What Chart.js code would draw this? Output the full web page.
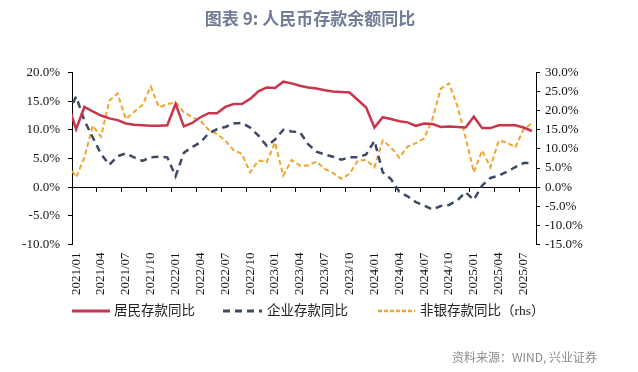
<!DOCTYPE html>
<html lang="zh">
<head>
<meta charset="UTF-8" />
<title>人民币存款余额同比</title>
<script src="https://cdn.jsdelivr.net/npm/chart.js@4"></script>
<style>
  html, body { margin: 0; padding: 0; background: #fff; }
  #wrap { width: 638px; height: 372px; }
</style>
</head>
<body>
<div id="wrap"><canvas id="chart" width="638" height="372"></canvas></div>
<script>
// ===========================================================
// Data (yoy, %). 2020/12 sits just left of the plot and gets clipped
// ===========================================================
const months = [
  "2020/12",
  "2021/01","2021/02","2021/03","2021/04","2021/05","2021/06","2021/07","2021/08","2021/09","2021/10","2021/11","2021/12",
  "2022/01","2022/02","2022/03","2022/04","2022/05","2022/06","2022/07","2022/08","2022/09","2022/10","2022/11","2022/12",
  "2023/01","2023/02","2023/03","2023/04","2023/05","2023/06","2023/07","2023/08","2023/09","2023/10","2023/11","2023/12",
  "2024/01","2024/02","2024/03","2024/04","2024/05","2024/06","2024/07","2024/08","2024/09","2024/10","2024/11","2024/12",
  "2025/01","2025/02","2025/03","2025/04","2025/05","2025/06","2025/07","2025/08"
];

// 居民存款同比 (left axis)
const household = [14.6,
  10.1, 14.0, 13.2, 12.5, 12.0, 11.7, 11.1, 10.9, 10.8, 10.7, 10.7, 10.8,
  14.5, 10.6, 11.2, 12.2, 12.9, 12.9, 14.0, 14.5, 14.5, 15.4, 16.7, 17.4,
  17.3, 18.4, 18.1, 17.7, 17.4, 17.2, 16.9, 16.7, 16.6, 16.5, 15.2, 13.9,
  10.4, 12.2, 11.9, 11.5, 11.3, 10.7, 11.1, 11.0, 10.5, 10.6, 10.5, 10.4,
  12.3, 10.3, 10.3, 10.8, 10.8, 10.8, 10.4, 9.8];

// 企业存款同比 (left axis)
const corporate = [12.8,
  15.8, 11.6, 8.7, 5.8, 3.9, 5.4, 5.9, 5.2, 4.6, 5.2, 5.3, 5.2,
  1.9, 6.0, 7.0, 7.8, 9.4, 10.1, 10.5, 11.1, 11.2, 10.4, 9.0, 7.2,
  8.3, 10.0, 9.7, 9.6, 7.5, 6.2, 5.7, 5.3, 4.8, 5.2, 5.2, 5.7,
  8.1, 2.6, 1.4, -0.8, -1.6, -2.6, -3.2, -3.9, -3.3, -3.1, -2.3, -0.9,
  -2.2, 0.3, 1.6, 2.0, 2.7, 3.5, 4.2, 4.2];

// 非银存款同比 (right axis)
const nonbank = [6.0,
  2.6, 7.8, 16.1, 13.2, 22.6, 24.5, 17.8, 19.7, 21.5, 26.3, 20.9, 21.7,
  22.2, 19.6, 18.3, 17.4, 15.0, 13.9, 12.2, 9.7, 8.7, 3.9, 7.0, 6.5,
  11.7, 3.0, 7.1, 5.7, 5.7, 6.7, 4.8, 3.7, 2.2, 3.5, 7.0, 7.1,
  5.2, 12.2, 10.4, 7.7, 10.6, 11.5, 12.8, 17.8, 25.7, 27.2, 21.3, 13.0,
  3.9, 9.6, 5.2, 12.2, 11.7, 10.4, 15.2, 16.7];

const leftTicks = [-10, -5, 0, 5, 10, 15, 20];
const rightTicks = [-15, -10, -5, 0, 5, 10, 15, 20, 25, 30];
// every 3rd month gets a label (index into the 2021/01-based months)
const labelIdx = [0, 3, 6, 9, 12, 15, 18, 21, 24, 27, 30, 33, 36, 39, 42, 45, 48, 51, 54];

const seriesNames = ["居民存款同比", "企业存款同比", "非银存款同比（rhs）"];
const colors = { red: "#c8354c", navy: "#3d4a66", orange: "#f0a52c" };

const toPoints = (arr) => arr.map((v, i) => ({ x: i - 1, y: v }));

// ===========================================================
// Title, legend and source are painted by hand
// ===========================================================
const decorations = {
  id: "decorations",
  afterDraw(chart) {
    const ctx = chart.ctx;
    ctx.save();
    ctx.fillStyle = "#6f7e96";
    ctx.font = 'bold 17px "Noto Sans CJK SC"';
    ctx.textAlign = "center";
    ctx.textBaseline = "middle";
    ctx.fillText("图表 9: 人民币存款余额同比", 310, 19);

    const items = [
      { x0: 72, x1: 110, tx: 114, color: colors.red, width: 3, dash: [] },
      { x0: 223, x1: 262, tx: 267, color: colors.navy, width: 3, dash: [7, 5] },
      { x0: 378, x1: 415, tx: 420, color: colors.orange, width: 2.5, dash: [4, 2] },
    ];
    const ly = 311;
    items.forEach((it, k) => {
      ctx.beginPath();
      ctx.setLineDash(it.dash);
      ctx.strokeStyle = it.color;
      ctx.lineWidth = it.width;
      ctx.moveTo(it.x0, ly);
      ctx.lineTo(it.x1, ly);
      ctx.stroke();
      ctx.setLineDash([]);
      ctx.fillStyle = "#222";
      ctx.font = '13.5px "Liberation Serif", "Noto Sans CJK SC"';
      ctx.textAlign = "left";
      ctx.fillText(seriesNames[k], it.tx, ly);
    });

    ctx.fillStyle = "#8c8c8c";
    ctx.font = '12px "Noto Sans CJK SC"';
    ctx.fillText("资料来源：WIND, 兴业证券", 452, 357);
    ctx.restore();
  },
};

const axisFont = { family: '"Liberation Serif", "Times New Roman", serif', size: 13 };
const markGrid = { drawOnChartArea: false, drawTicks: true, tickLength: 4, color: "#000", lineWidth: 1 };

new Chart(document.getElementById("chart"), {
  type: "line",
  data: {
    datasets: [
      { label: seriesNames[0], data: toPoints(household), yAxisID: "y", xAxisID: "x",
        borderColor: colors.red, borderWidth: 2.5, pointRadius: 0, tension: 0,
        clip: { left: 0, right: 0, top: 5, bottom: 5 } },
      { label: seriesNames[1], data: toPoints(corporate), yAxisID: "y", xAxisID: "x",
        borderColor: colors.navy, borderWidth: 2.5, borderDash: [7, 5], pointRadius: 0, tension: 0,
        clip: { left: 0, right: 0, top: 5, bottom: 5 } },
      { label: seriesNames[2], data: toPoints(nonbank), yAxisID: "y1", xAxisID: "x",
        borderColor: colors.orange, borderWidth: 2, borderDash: [5, 3], pointRadius: 0, tension: 0,
        clip: { left: 0, right: 0, top: 5, bottom: 5 } },
    ],
  },
  options: {
    responsive: false,
    animation: false,
    devicePixelRatio: 1,
    layout: { padding: { top: 72.5, left: 0, right: 0, bottom: 0 } },
    plugins: { legend: { display: false }, tooltip: { enabled: false } },
    scales: {
      x: {
        type: "linear", position: "bottom", min: -0.5, max: 55.5,
        afterBuildTicks: (s) => { s.ticks = labelIdx.map((v) => ({ value: v })); },
        afterFit: (s) => { s.height = 127.5; },
        grid: { display: false, drawTicks: false },
        border: { display: false },
        ticks: {
          autoSkip: false, minRotation: 90, maxRotation: 90, padding: 8,
          color: "#111", font: axisFont,
          callback: (v) => months[v + 1],
        },
      },
      x2: {
        type: "linear", axis: "x", position: { y: 0 }, min: -0.5, max: 55.5,
        afterBuildTicks: (s) => { s.ticks = labelIdx.map((v) => ({ value: v - 0.5 })); },
        grid: markGrid,
        border: { display: true, color: "#000", width: 1 },
        ticks: { display: false },
      },
      y: {
        type: "linear", position: "left", min: -10, max: 20,
        afterBuildTicks: (s) => { s.ticks = leftTicks.map((v) => ({ value: v })); },
        afterFit: (s) => { s.width = 72; },
        grid: markGrid,
        border: { display: true, color: "#000", width: 1 },
        ticks: { padding: 8, color: "#111", font: axisFont, callback: (v) => v.toFixed(1) + "%" },
      },
      y1: {
        type: "linear", position: "right", min: -15, max: 30,
        afterBuildTicks: (s) => { s.ticks = rightTicks.map((v) => ({ value: v })); },
        afterFit: (s) => { s.width = 102; },
        grid: markGrid,
        border: { display: true, color: "#000", width: 1 },
        ticks: { padding: 5, color: "#111", font: axisFont, callback: (v) => v.toFixed(1) + "%" },
      },
    },
  },
  plugins: [decorations],
});
</script>
</body>
</html>
